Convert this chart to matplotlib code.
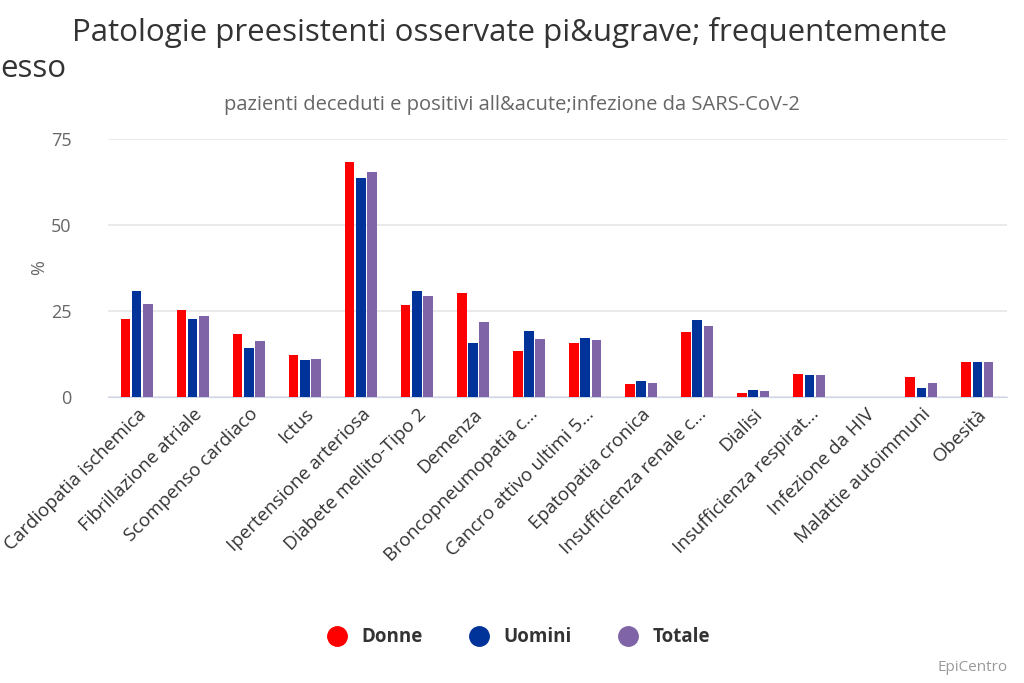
import matplotlib.pyplot as plt
import numpy as np

plt.rcParams['font.family'] = ['Open Sans', 'DejaVu Sans']

categories = ['Cardiopatia ischemica', 'Fibrillazione atriale', 'Scompenso cardiaco',
              'Ictus', 'Ipertensione arteriosa', 'Diabete mellito-Tipo 2', 'Demenza',
              'Broncopneumopatia c...', 'Cancro attivo ultimi 5...', 'Epatopatia cronica',
              'Insufficienza renale c...', 'Dialisi', 'Insufficienza respirat...',
              'Infezione da HIV', 'Malattie autoimmuni', 'Obesità']
donne = [22.7, 25.2, 18.2, 12.1, 68.2, 26.7, 30.2, 13.2, 15.6, 3.7, 18.7, 1.2, 6.6, 0.0, 5.7, 10.2]
uomini = [30.7, 22.7, 14.2, 10.6, 63.7, 30.7, 15.6, 19.1, 17.2, 4.7, 22.2, 2.1, 6.2, 0.0, 2.6, 10.2]
totale = [27.1, 23.6, 16.2, 11.1, 65.2, 29.2, 21.7, 16.7, 16.6, 4.1, 20.6, 1.7, 6.2, 0.0, 4.1, 10.2]
yticks = [0, 25, 50, 75]

colors = ['#ff0000', '#003399', '#7f64a8']
names = ['Donne', 'Uomini', 'Totale']

fig = plt.figure(figsize=(10.24, 6.83), dpi=100)
ax = fig.add_axes([0.105, 0.419, 0.878, 0.378])

x = np.arange(len(categories))
w = 0.17
for i, (vals, c, n) in enumerate(zip([donne, uomini, totale], colors, names)):
    ax.bar(x + (i - 1) * (w + 0.03), vals, width=w, color=c, label=n, zorder=3)

ax.set_xlim(-0.52, len(categories) - 0.48)
ax.set_ylim(0, 75)
ax.set_yticks(yticks)
ax.yaxis.grid(True, color='#e6e6e6', linewidth=1.2, zorder=0)
ax.tick_params(axis='y', length=0, labelsize=13, labelcolor='#666666', pad=26)
ax.set_xticks(x)
ax.set_xticklabels(categories, rotation=45, ha='right', rotation_mode='anchor',
                   fontsize=13.5, color='#333333')
ax.tick_params(axis='x', length=0, pad=6)
for s in ['top', 'right', 'left']:
    ax.spines[s].set_visible(False)
ax.spines['bottom'].set_color('#ccd6eb')
ax.set_ylabel('%', color='#666666', fontsize=13)
ax.yaxis.set_label_coords(-0.066, 0.5)

fig.text(0.07, 0.953, 'Patologie preesistenti osservate pi&ugrave; frequentemente',
         fontsize=22.5, color='#333333', va='center')
fig.text(0.0, 0.899, 'esso', fontsize=22.5, color='#333333', va='center')
fig.text(0.5, 0.846, 'pazienti deceduti e positivi all&acute;infezione da SARS-CoV-2',
         fontsize=14.5, color='#666666', ha='center', va='center')

handles = [plt.Line2D([], [], marker='o', linestyle='', markersize=14, color=c) for c in colors]
leg = fig.legend(handles, names, loc='center', bbox_to_anchor=(0.502, 0.067), ncol=3,
                 frameon=False, handletextpad=0.3, columnspacing=2.0,
                 prop={'weight': 'bold', 'size': 13.5})
for t in leg.get_texts():
    t.set_color('#333333')

fig.text(0.984, 0.022, 'EpiCentro', fontsize=11, color='#999999', ha='right', va='center')

fig.savefig('out.png', dpi=100)
